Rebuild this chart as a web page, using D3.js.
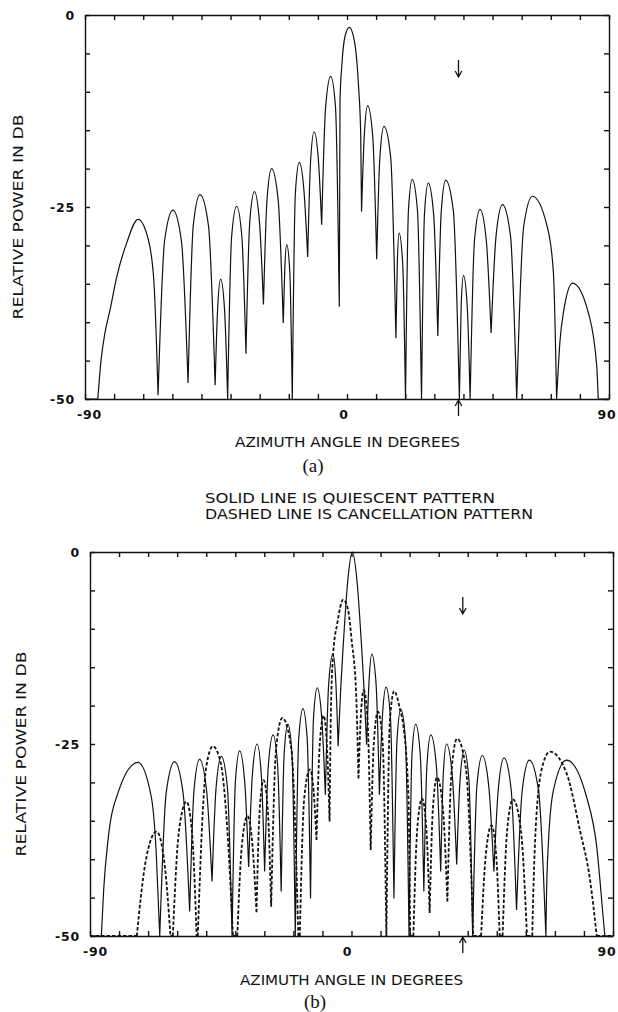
<!DOCTYPE html>
<html><head><meta charset="utf-8">
<script src="https://cdn.jsdelivr.net/npm/d3@7"></script>
<style>
html,body{margin:0;padding:0;background:#fff;}
svg{display:block;}
</style></head>
<body>
<svg id="chart" width="618" height="1012"></svg>
<script>
// ---------- DATA ----------
// Panel (a): single pattern
const patternA_deg = [-90,-85.6,-84.5,-83.2,-81.4,-79.1,-75.7,-71.8,-68.2,-66.3,-64.9,
  -62.66,-59.8,-56.89,-54.6,-52.8,-50.5,-47.6,-45.3,-44.46,-43.4,-42.06,-41.0,
  -39.64,-37.9,-36.11,-34.7,-33.42,-31.8,-30.06,-28.7,-27.47,-25.9,-23.66,-21.9,
  -21.37,-20.7,-19.64,-18.8,-17.74,-16.4,-14.78,-13.5,-12.53,-11.3,-9.84,-8.7,
  -7.34,-5.6,-3.95,-2.65,-2.4,-1.8,-0.7,0.8,2.5,3.9,4.7,5.0,
  5.92,7.1,8.84,10.2,11.3,12.7,15.0,16.8,17.28,17.9,19.13,20.1,
  21.11,22.4,24.19,25.6,26.61,27.9,29.75,31.2,32.39,33.9,36.53,38.6,
  39.22,40.0,41.29,42.3,43.8,45.7,47.83,49.5,51.22,53.4,56.14,58.3,
  60.68,63.7,68.8,70.9,72.0,73.2,74.4,77.5,83.0,85.8,86.3,90];
const patternA_db = [-50,-50,-45,-41.5,-38.4,-34.1,-29.7,-26.6,-29.3,-34.9,-49.5,
  -29.4,-25.4,-29.4,-47.9,-27.4,-23.4,-27.4,-48.2,-38.4,-34.4,-38.4,-50,
  -28.9,-24.9,-28.9,-44.1,-27.0,-23.0,-27.0,-37.7,-24.0,-20.0,-24.0,-40.1,
  -33.0,-29.9,-33.5,-50,-23.2,-19.2,-22.9,-31.5,-19.2,-15.2,-18.8,-27.3,
  -12.0,-8.0,-12.0,-38.0,-11.1,-6.7,-2.8,-1.6,-3.3,-8.9,-15.4,-25.6,
  -15.8,-11.8,-15.8,-31.8,-18.5,-14.5,-18.5,-42.1,-32.4,-28.4,-32.4,-50,
  -25.4,-21.4,-25.4,-50,-25.9,-21.9,-25.9,-41.8,-25.5,-21.5,-25.5,-50,
  -37.9,-33.9,-37.9,-50,-29.3,-25.3,-29.3,-41.4,-28.7,-24.7,-28.7,-50,
  -27.6,-23.6,-27.6,-33.5,-50,-42.3,-38.6,-34.9,-38.9,-45.8,-50,-50];

// Panel (b): quiescent pattern (solid)
const quiescentB_deg = [-90,-86.1,-85.3,-83.8,-80.4,-73.5,-68.9,-67.2,-66.0,
  -63.76,-60.9,-57.99,-55.7,-54.2,-52.3,-49.89,-48.0,-46.59,-44.8,-42.73,-41.1,
  -39.96,-38.5,-36.76,-35.4,-34.12,-32.5,-31.04,-29.9,-28.62,-27.0,-25.43,-24.2,
  -23.19,-21.9,-20.47,-19.35,-18.18,-16.7,-15.24,-14.1,-13.09,-11.8,-10.23,-9.0,
  -7.86,-6.4,-5.39,-4.6,-3.7,-2.9,-1.3,0.3,1.9,3.5,4.3,5.2,
  5.99,7.0,8.46,9.6,10.61,11.9,13.41,14.6,15.66,17.0,18.57,19.8,
  20.81,22.1,23.67,24.9,25.96,27.3,29.2,30.7,31.58,32.7,34.66,36.2,
  37.34,38.8,40.42,41.7,43.15,45.0,47.24,49.0,50.54,52.5,54.91,56.8,
  58.74,61.2,64.39,66.9,67.1,67.7,69.5,74.0,80.9,84.4,86.6,87.2,90];
const quiescentB_db = [-50,-50,-44,-37.5,-31.4,-27.4,-31.9,-39.2,-50,
  -31.3,-27.3,-31.3,-46.8,-31.0,-27.0,-31.0,-42.9,-30.6,-26.6,-30.6,-50,
  -29.9,-25.9,-29.9,-41.0,-29.0,-25.0,-29.0,-41.6,-27.8,-23.8,-27.8,-44.2,
  -26.4,-22.4,-26.4,-50,-24.4,-20.4,-24.4,-45.1,-21.7,-17.7,-21.7,-31.6,
  -17.2,-13.3,-17.0,-25.3,-17.7,-12.5,-3.8,0,-3.8,-12.5,-17.7,-25.1,
  -17.2,-13.3,-17.2,-31.6,-21.6,-17.6,-21.6,-45.1,-24.5,-20.5,-24.5,-50,
  -26.4,-22.4,-26.4,-44.2,-27.8,-23.8,-27.8,-41.6,-29.0,-25.0,-29.0,-40.7,
  -29.8,-25.8,-29.8,-50,-30.5,-26.5,-30.5,-41.6,-30.8,-26.8,-30.8,-46.6,
  -31.1,-27.1,-31.1,-50,-45,-38.4,-31.0,-27.1,-31.9,-38.4,-47.5,-50,-50];

// Panel (b): cancellation pattern (dashed)
const cancelB_deg = [-90,-73.9,-70.9,-67.1,-64.4,-62.3,-61.5,-59.43,-56.8,-54.9,-53.3,
  -52.9,-51.1,-50.0,-47.7,-45.0,-42.8,-40.8,-39.3,-37.76,-35.8,-34.06,-32.7,
  -31.62,-30.25,-28.79,-27.65,-25.96,-23.8,-20.72,-18.3,-17.8,-16.26,-14.3,-13.04,-12.05,
  -10.97,-9.6,-8.45,-7.55,-7.1,-6.3,-4.9,-2.85,-1.2,0.05,1.6,2.4,
  3.19,4.2,5.54,6.6,7.7,9.1,10.72,12.0,13.19,14.7,16.7,17.8,19.6,20.2,21.3,
  22.62,24.3,25.76,26.9,28.02,29.45,31.44,33.0,34.47,36.35,39.4,41.9,44.6,
  46.18,48.2,49.82,51.0,52.0,53.58,55.6,58.29,60.4,62.2,
  62.6,63.7,66.0,68.3,74.0,78.6,82.1,84.4,90];
const cancelB_db = [-50,-50,-40.4,-36.4,-40.4,-50,-50,-36.5,-32.5,-36.5,-50,
  -50,-33.2,-28.0,-25.3,-27.5,-35.8,-50,-50,-38.3,-34.4,-38.3,-46.9,
  -33.7,-29.7,-33.7,-46.2,-25.6,-21.6,-25.6,-50,-50,-32.0,-28.3,-31.1,-37.5,
  -25.3,-21.3,-25.3,-35.1,-21,-13.2,-9.3,-6.2,-7.5,-11.5,-18.5,-29.5,
  -21.5,-18.0,-22.0,-38.8,-24.8,-20.8,-24.8,-50,-22.1,-18.1,-20.5,-22.5,-32,-50,-50,
  -36.1,-32.1,-36.1,-47,-33.35,-29.35,-33.35,-45.5,-28.3,-24.3,-28.3,-50,-50,
  -39.6,-35.6,-39.6,-50,-50,-36.2,-32.2,-36.2,-50,-50,
  -44,-34,-27.5,-26.0,-28.8,-36.2,-42.7,-50,-50];

const xTickValues = [-90,-80,-70,-60,-50,-40,-30,-20,-10,0,10,20,30,40,50,60,70,80,90];
const xTickLabels = [-90, 0, 90];
const yTickValues = [0,-5,-10,-15,-20,-25,-30,-35,-40,-45,-50];
const yTickLabels = [0, -25, -50];
const jammerAngle = [38.3];
const xTitle = "AZIMUTH ANGLE IN DEGREES";
const yTitle = "RELATIVE POWER IN DB";
const panelLabels = ["(a)", "(b)"];
const legendLines = ["SOLID LINE IS QUIESCENT PATTERN", "DASHED LINE IS CANCELLATION PATTERN"];

// ---------- DRAWING ----------
const svg = d3.select("#chart");
svg.append("rect").attr("width",618).attr("height",1012).attr("fill","#fff");
const INK = "#111";

function segmentsOf(deg, db) {
  const pts = deg.map((d, i) => [d, db[i]]);
  const cuts = [0];
  for (let i = 1; i < pts.length - 1; i++) {
    if (pts[i][1] <= pts[i-1][1] && pts[i][1] <= pts[i+1][1]) cuts.push(i);
  }
  cuts.push(pts.length - 1);
  const segs = [];
  for (let k = 0; k < cuts.length - 1; k++) segs.push(pts.slice(cuts[k], cuts[k+1] + 1));
  return segs;
}

function panel(cfg) {
  const x = d3.scaleLinear().domain([-90, 90]).range([cfg.left, cfg.right]);
  const y = d3.scaleLinear().domain([-50, 0]).range([cfg.bottom, cfg.top]);
  const g = svg.append("g");
  const lblOff = {"-90": cfg.dxNeg, "0": cfg.dxZero, "90": cfg.dxPos};
  const xf = d => xTickLabels.includes(d) ? String(d) : "";
  const yf = d => yTickLabels.includes(d) ? String(d) : "";

  const axB = g.append("g").attr("transform", `translate(0,${cfg.bottom})`)
    .call(d3.axisBottom(x).tickValues(xTickValues).tickSizeInner(-5).tickSizeOuter(0).tickPadding(11).tickFormat(xf));
  axB.selectAll("text").attr("dx", d => lblOff[String(d)] || 0)
    .attr("text-anchor", d => d === 90 ? "end" : "middle");
  g.append("g").attr("transform", `translate(0,${cfg.top})`)
    .call(d3.axisTop(x).tickValues(xTickValues).tickSizeInner(-5).tickSizeOuter(0).tickFormat(""));
  g.append("g").attr("transform", `translate(${cfg.left},0)`)
    .call(d3.axisLeft(y).tickValues(yTickValues).tickSizeInner(-5).tickSizeOuter(0).tickPadding(10).tickFormat(yf));
  g.append("g").attr("transform", `translate(${cfg.right},0)`)
    .call(d3.axisRight(y).tickValues(yTickValues).tickSizeInner(-5).tickSizeOuter(0).tickFormat(""));

  g.selectAll(".domain").attr("stroke", INK).attr("stroke-width", 1.4);
  g.selectAll(".tick line").attr("stroke", INK).attr("stroke-width", 1.4);
  g.selectAll(".tick text").attr("fill", INK)
    .attr("font-family", "'DejaVu Sans', sans-serif").attr("font-weight", "bold")
    .attr("font-size", 12.5).attr("letter-spacing", 0.8);

  const line = d3.line().x(d => x(d[0])).y(d => y(Math.max(-50, d[1]))).curve(d3.curveMonotoneX);
  cfg.series.forEach(s => {
    const segs = segmentsOf(s.deg, s.db);
    g.append("path")
      .attr("d", segs.map(sg => line(sg)).join(""))
      .attr("fill", "none").attr("stroke", INK)
      .attr("stroke-width", s.dashed ? 1.8 : 1.2)
      .attr("stroke-dasharray", s.dashed ? "3.5,2" : null)
      .attr("stroke-linejoin", "round");
  });

  // jammer arrows
  jammerAngle.forEach(a => {
    const xa = x(a);
    const y0 = cfg.top + 45, y1 = cfg.top + 62;
    g.append("path").attr("d", `M${xa},${y0}L${xa},${y1}M${xa-3.3},${y1-6}L${xa},${y1}L${xa+3.3},${y1-6}`)
      .attr("fill", "none").attr("stroke", INK).attr("stroke-width", 1.3);
    const b0 = cfg.bottom + 1, b1 = cfg.bottom + 17;
    g.append("path").attr("d", `M${xa},${b1}L${xa},${b0}M${xa-3.3},${b0+6}L${xa},${b0}L${xa+3.3},${b0+6}`)
      .attr("fill", "none").attr("stroke", INK).attr("stroke-width", 1.3);
  });

  // axis titles
  g.append("text").text(xTitle)
    .attr("x", cfg.xTitleX).attr("y", cfg.xTitleY).attr("text-anchor", "middle")
    .attr("font-family", "'DejaVu Sans', sans-serif").attr("font-size", 14.5)
    .attr("textLength", cfg.xTitleLen).attr("lengthAdjust", "spacingAndGlyphs").attr("fill", INK);
  g.append("text").text(yTitle)
    .attr("transform", `translate(${cfg.yTitleX},${cfg.yTitleY}) rotate(-90)`)
    .attr("text-anchor", "middle").attr("dy", "0.36em")
    .attr("font-family", "'DejaVu Sans', sans-serif").attr("font-size", 14.5)
    .attr("textLength", 205).attr("lengthAdjust", "spacingAndGlyphs").attr("fill", INK);
  g.append("text").text(cfg.label)
    .attr("x", cfg.labelX).attr("y", cfg.labelY).attr("text-anchor", "middle")
    .attr("font-family", "'Liberation Serif', serif").attr("font-size", 19).attr("fill", INK);
}

panel({left: 85, right: 609, top: 15, bottom: 399,
  dxNeg: 4, dxZero: -3.5, dxPos: 7,
  xTitleX: 347.5, xTitleY: 447, xTitleLen: 225,
  yTitleX: 17.5, yTitleY: 217,
  label: panelLabels[0], labelX: 313, labelY: 472,
  series: [{deg: patternA_deg, db: patternA_db, dashed: false}]});

panel({left: 90, right: 613, top: 552, bottom: 936,
  dxNeg: 5, dxZero: -4.5, dxPos: 3,
  xTitleX: 351.5, xTitleY: 985, xTitleLen: 223,
  yTitleX: 21, yTitleY: 754,
  label: panelLabels[1], labelX: 315, labelY: 1008,
  series: [{deg: quiescentB_deg, db: quiescentB_db, dashed: false},
           {deg: cancelB_deg, db: cancelB_db, dashed: true}]});

// legend between panels
legendLines.forEach((t, i) => {
  svg.append("text").text(t)
    .attr("x", 205).attr("y", 503 + i * 16)
    .attr("font-family", "'DejaVu Sans', sans-serif").attr("font-size", 14)
    .attr("textLength", i === 0 ? 290 : 328).attr("lengthAdjust", "spacingAndGlyphs")
    .attr("fill", INK);
});
</script>
</body></html>
